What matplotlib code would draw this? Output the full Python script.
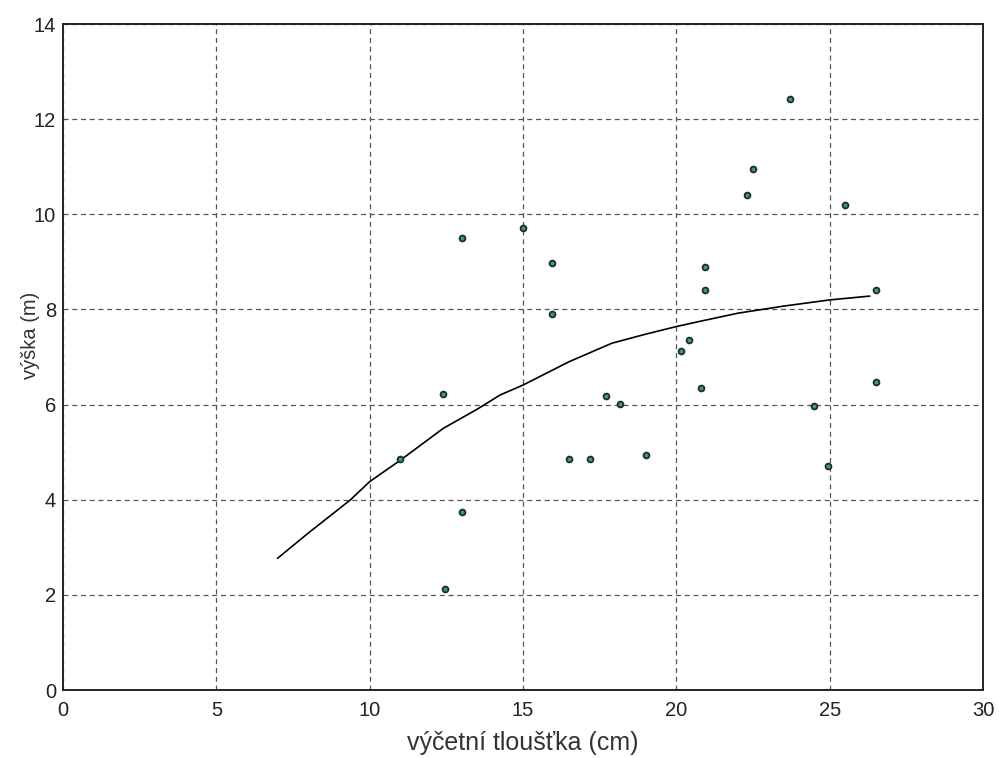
import matplotlib

matplotlib.use("Agg")
import matplotlib.pyplot as plt

# measured trees: diameter (cm) and height (m)
diameter = [11.0, 12.4, 12.45, 13.0, 13.0, 15.0, 15.95, 15.95, 16.5, 17.2, 17.7, 18.15,
            19.0, 20.15, 20.4, 20.8, 20.95, 20.95, 22.3, 22.5, 23.7, 24.5, 24.95, 25.5,
            26.5, 26.5]
height = [4.85, 6.22, 2.12, 9.5, 3.75, 9.72, 8.97, 7.9, 4.85, 4.85, 6.17, 6.02,
          4.93, 7.13, 7.35, 6.35, 8.9, 8.4, 10.4, 10.96, 12.42, 5.98, 4.7, 10.2,
          8.41, 6.48]

# fitted height curve
curve_x = [7.0, 8.0, 9.36, 10.0, 11.0, 12.4, 13.5, 14.25, 15.0, 16.5, 17.9, 19.0,
           20.0, 20.7, 22.0, 23.5, 25.0, 26.3]
curve_y = [2.77, 3.3, 3.99, 4.38, 4.83, 5.5, 5.9, 6.2, 6.41, 6.9, 7.29, 7.48,
           7.64, 7.74, 7.92, 8.07, 8.2, 8.28]

x_ticks = [0, 5, 10, 15, 20, 25, 30]
y_ticks = [0, 2, 4, 6, 8, 10, 12, 14]

plt.rcParams['font.family'] = ['Liberation Sans', 'DejaVu Sans']

fig = plt.figure(figsize=(9.99, 7.58), dpi=100)
ax = fig.add_axes([63 / 999, 68 / 758, 920 / 999, 666 / 758])

ax.plot(curve_x, curve_y, color='black', linewidth=1.2, zorder=3)
ax.plot(diameter, height, 'o', markersize=4.2, markerfacecolor='#3a9a88',
        markeredgecolor='#1a2e2c', markeredgewidth=1.3, zorder=4)

ax.set_xlim(0, 30)
ax.set_ylim(0, 14)
ax.set_xticks(x_ticks)
ax.set_yticks(y_ticks)
ax.grid(True, linestyle=(0, (4, 3)), color='#555555', linewidth=0.9)
ax.set_axisbelow(True)
ax.tick_params(axis='both', length=0, labelsize=14.5, colors='#222222')
ax.tick_params(axis='x', pad=8)
ax.tick_params(axis='y', pad=5)
for s in ax.spines.values():
    s.set_linewidth(1.4)
    s.set_color('#222222')

ax.set_xlabel('výčetní tloušťka (cm)', fontsize=18, color='#333333', va='center')
ax.set_ylabel('výška (m)', fontsize=14.5, color='#333333', va='center', ha='center')
ax.xaxis.set_label_coords(0.5, -0.08)
ax.yaxis.set_label_coords(-0.035, 0.533)

fig.savefig('out.png', dpi=100)
